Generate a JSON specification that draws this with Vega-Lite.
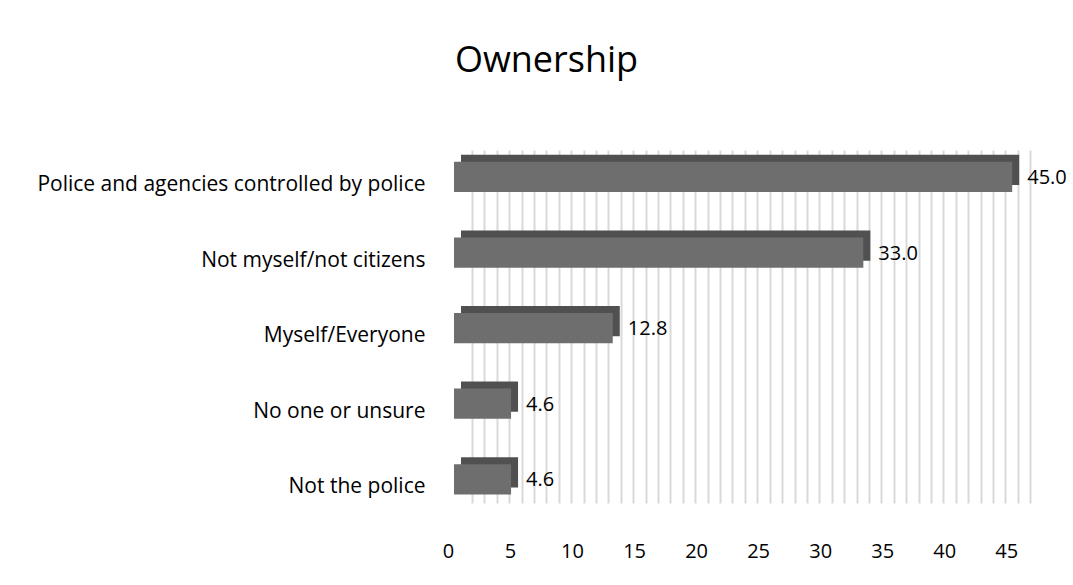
{
  "$schema": "https://vega.github.io/schema/vega-lite/v6.json",
  "autosize": {"type": "none"},
  "width": 583,
  "height": 353,
  "padding": {"left": 454, "top": 150, "right": 36, "bottom": 82},
  "background": "white",
  "title": {"text": "Ownership", "fontSize": 36, "font": "Open Sans", "fontWeight": "normal", "color": "#000000", "anchor": "middle", "frame": "group", "offset": 70, "dx": -199},
  "data": {"values": [
    {"category": "Police and agencies controlled by police", "value": 45.0},
    {"category": "Not myself/not citizens", "value": 33.0},
    {"category": "Myself/Everyone", "value": 12.8},
    {"category": "No one or unsure", "value": 4.6},
    {"category": "Not the police", "value": 4.6}
  ]},
  "encoding": {
    "y": {"field": "category", "type": "nominal", "sort": null,
      "scale": {"paddingInner": 0.6, "paddingOuter": 0.135, "align": 0.58},
      "axis": {"title": null, "ticks": false, "domain": false, "labelFontSize": 21, "labelFont": "Open Sans", "labelColor": "#000000", "labelPadding": 29, "labelOffset": 8, "labelLimit": 600}},
    "x": {"field": "value", "type": "quantitative", "scale": {"domain": [0, 47], "nice": false, "zero": true},
       "axis": {"title": null, "values": [0,1,2,3,4,5,6,7,8,9,10,11,12,13,14,15,16,17,18,19,20,21,22,23,24,25,26,27,28,29,30,31,32,33,34,35,36,37,38,39,40,41,42,43,44,45],
         "labelExpr": "datum.value % 5 === 0 ? datum.label : ''", "labelOverlap": false, "labelFlush": false, "labelBound": false,
         "tickOffset": 18, "labelOffset": -24, "grid": true, "gridColor": "#d9d9d9", "gridWidth": 2,
         "ticks": false, "domain": false, "labelFontSize": 20, "labelFont": "Open Sans", "labelColor": "#000000", "labelPadding": 38}}
  },
  "layer": [
    {"mark": {"type": "bar", "color": "#505050", "xOffset": 7, "x2Offset": 7, "yOffset": -7, "y2Offset": -7}},
    {"mark": {"type": "bar", "color": "#6e6e6e"}},
    {"mark": {"type": "text", "align": "left", "baseline": "middle", "dx": 15, "dy": 1, "fontSize": 20, "font": "Open Sans", "color": "#000000"},
     "encoding": {"text": {"field": "value", "type": "quantitative", "format": ".1f"}}}
  ],
  "config": {"view": {"stroke": null}}
}
